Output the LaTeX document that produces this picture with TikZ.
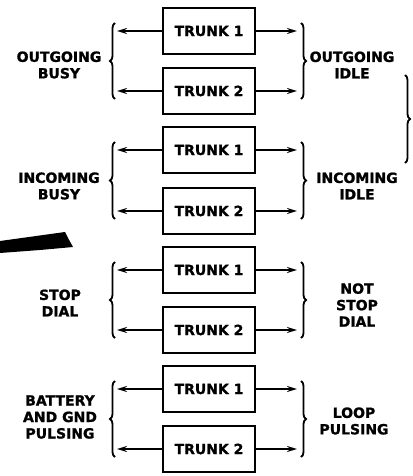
\documentclass[tikz,border=0pt]{standalone}
\usepackage{fontspec}
\setmainfont{DejaVu Sans}
\newfontfamily\heavyfont{DejaVu Sans Bold}[FakeBold=1.3]
\usetikzlibrary{arrows.meta,decorations.pathreplacing}
\begin{document}
\begin{tikzpicture}[x=1pt,y=-1pt,
  trunkbox/.style={draw,line width=2.4pt,minimum width=92pt,minimum height=46pt,inner sep=0pt,
    font=\heavyfont\fontsize{14}{16.5}\selectfont},
  lbl/.style={align=center,inner sep=0pt,font=\heavyfont\fontsize{14}{16.5}\selectfont},
  arr/.style={line width=1.8pt,-{Stealth[length=10pt,width=6pt]}},
  brc/.style={line width=1.8pt,decorate,decoration={brace,amplitude=5pt,aspect=0.5}},
]
\useasboundingbox (0,0) rectangle (412,476);
% boxes
\foreach \n/\yy/\t in {11/31/1,12/91/2,21/150/1,22/211/2,31/270/1,32/330/2,41/389/1,42/449/2}{
  \node[trunkbox] (t\n) at (209,\yy) {TRUNK \t};
  \coordinate (l\n) at (117,\yy);
  \coordinate (r\n) at (297,\yy);
  \draw[arr] (t\n.west) -- (l\n);
  \draw[arr] (t\n.east) -- (r\n);
}
% braces
\foreach \g/\ya/\yb in {1/23/99,2/142/219,3/262/338,4/381/457}{
  \coordinate (bla\g) at (115,\yb);
  \coordinate (blb\g) at (115,\ya);
  \coordinate (bra\g) at (301,\ya);
  \coordinate (brb\g) at (301,\yb);
  \draw[brc] (bla\g) -- (blb\g);
  \draw[brc] (bra\g) -- (brb\g);
}
\coordinate (bba) at (405,75);
\coordinate (bbb) at (405,163);
\draw[brc] (bba) -- (bbb);
% labels
\node[lbl] (lab1) at (59,65) {OUTGOING\\BUSY};
\node[lbl] (rab1) at (352,65) {OUTGOING\\IDLE};
\node[lbl] (lab2) at (59,186) {INCOMING\\BUSY};
\node[lbl] (rab2) at (357,186) {INCOMING\\IDLE};
\node[lbl] (lab3) at (60,303) {STOP\\DIAL};
\node[lbl] (rab3) at (357,305) {NOT\\STOP\\DIAL};
\node[lbl] (lab4) at (60,417) {BATTERY\\AND GND\\PULSING};
\node[lbl] (rab4) at (354,421) {LOOP\\PULSING};
% ink mark
\fill (0,241) -- (65,232) -- (68,238) -- (73,247) -- (40,250) -- (0,253) -- cycle;
\end{tikzpicture}
\end{document}
